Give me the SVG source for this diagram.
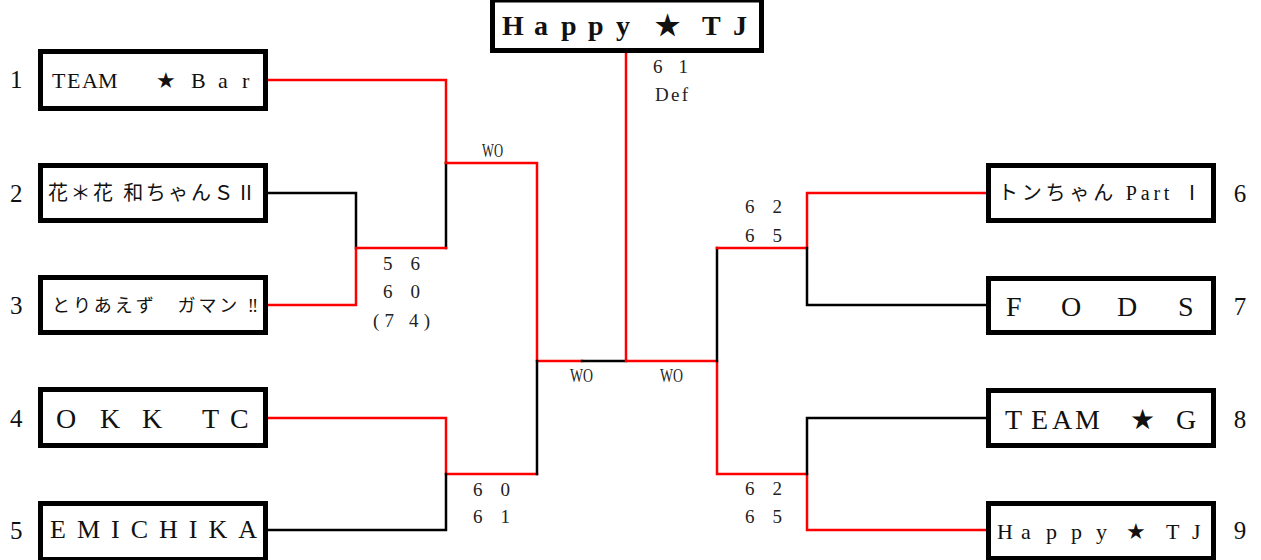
<svg xmlns="http://www.w3.org/2000/svg" width="1261" height="560" viewBox="0 0 1261 560">
<style>
.r{stroke:#f00;stroke-width:2.5;fill:none;stroke-linecap:square}
.k{stroke:#000;stroke-width:2.5;fill:none;stroke-linecap:square}
.box{fill:#fff;stroke:#000;stroke-width:5}
.t{font-family:"Liberation Serif","Times New Roman","DejaVu Serif",serif;fill:#111}
.j{font-family:"Liberation Serif","Noto Sans CJK JP",sans-serif;fill:#111}
.n{font-family:"Liberation Serif","Times New Roman","DejaVu Serif",serif;font-size:25px;fill:#111}
.s{font-family:"Liberation Serif","Times New Roman","DejaVu Serif",serif;font-size:19px;fill:#222}
</style>
<rect width="1261" height="560" fill="#fff"/>
<g id="connectors">
<path class="r" d="M268,80H446V163"/>
<path class="k" d="M446,163V248"/>
<path class="k" d="M268,193H356V248"/>
<path class="r" d="M268,305H356V248H446"/>
<path class="r" d="M446,163H537V361H582"/>
<path class="k" d="M582,361H626"/>
<path class="r" d="M268,418H446V474H537"/>
<path class="k" d="M268,530H446V474"/>
<path class="k" d="M537,361V474"/>
<path class="r" d="M626,53V361H717V474H807V530H986"/>
<path class="k" d="M717,361V248"/>
<path class="r" d="M717,248H807V193H986"/>
<path class="k" d="M807,248V305H986"/>
<path class="k" d="M807,474V418H986"/>
</g>
<g id="final">
<rect class="box" x="492.5" y="0" width="269" height="50.5"/>
<text class="t" x="502 534 561 588 616 655 702 733" y="35" font-size="28" font-weight="bold">Happy★TJ</text>
</g>
<g id="team1">
<text class="n" x="10" y="88">1</text>
<rect class="box" x="40.5" y="51.5" width="225" height="57"/>
<text class="t" x="52 67 82 98 156 191 218 242" y="88" font-size="22">TEAM★Bar</text>
</g>
<g id="team2">
<text class="n" x="10" y="202">2</text>
<rect class="box" x="40.5" y="165.5" width="225" height="55"/>
<text class="j" x="48" y="200" font-size="20" textLength="208" lengthAdjust="spacing" xml:space="preserve">花＊花 和ちゃんＳⅡ</text>
</g>
<g id="team3">
<text class="n" x="10" y="314">3</text>
<rect class="box" x="40.5" y="277.5" width="225" height="55"/>
<text class="j" x="52" y="312" font-size="18" textLength="206" lengthAdjust="spacing" xml:space="preserve">とりあえず　ガマン ‼</text>
</g>
<g id="team4">
<text class="n" x="10" y="427">4</text>
<rect class="box" x="40.5" y="389.5" width="225" height="56"/>
<text class="t" x="56 100 142 202 230" y="428" font-size="28">OKKTC</text>
</g>
<g id="team5">
<text class="n" x="10" y="539">5</text>
<rect class="box" x="40.5" y="503.5" width="225" height="56"/>
<text class="t" x="50" y="538" font-size="26" textLength="207" lengthAdjust="spacing">EMICHIKA</text>
</g>
<g id="team6">
<rect class="box" x="988.5" y="165.5" width="225" height="55"/>
<text class="j" x="998" y="200" font-size="20" textLength="204" lengthAdjust="spacing" xml:space="preserve">トンちゃん Part Ⅰ</text>
<text class="n" x="1240" y="202" text-anchor="middle">6</text>
</g>
<g id="team7">
<rect class="box" x="988.5" y="278.5" width="225" height="54"/>
<text class="t" x="1006 1061 1117 1178" y="316" font-size="28">FODS</text>
<text class="n" x="1240" y="315" text-anchor="middle">7</text>
</g>
<g id="team8">
<rect class="box" x="988.5" y="390.5" width="225" height="55"/>
<text class="t" x="1005 1031 1052 1075 1130 1176" y="429" font-size="28">TEAM★G</text>
<text class="n" x="1240" y="428" text-anchor="middle">8</text>
</g>
<g id="team9">
<rect class="box" x="988.5" y="503.5" width="225" height="55"/>
<text class="t" x="997 1021 1046 1071 1096 1126 1166 1192" y="539" font-size="22">Happy★TJ</text>
<text class="n" x="1240" y="539" text-anchor="middle">9</text>
</g>
<g id="scores">
<text class="s" x="653" y="73" textLength="35" lengthAdjust="spacing">6 1</text>
<text class="s" x="655" y="101" textLength="33" lengthAdjust="spacing">Def</text>
<text class="s" x="383" y="270" textLength="37" lengthAdjust="spacing">5 6</text>
<text class="s" x="383" y="298" textLength="37" lengthAdjust="spacing">6 0</text>
<text class="s" x="373" y="327" textLength="57" lengthAdjust="spacing">(7 4)</text>
<text class="s" x="473" y="496" textLength="37" lengthAdjust="spacing">6 0</text>
<text class="s" x="473" y="523" textLength="37" lengthAdjust="spacing">6 1</text>
<text class="s" x="745" y="213" textLength="37" lengthAdjust="spacing">6 2</text>
<text class="s" x="745" y="242" textLength="37" lengthAdjust="spacing">6 5</text>
<text class="s" x="745" y="495" textLength="37" lengthAdjust="spacing">6 2</text>
<text class="s" x="745" y="523" textLength="37" lengthAdjust="spacing">6 5</text>
<text class="s" x="482" y="157" font-size="17" textLength="21" lengthAdjust="spacingAndGlyphs">WO</text>
<text class="s" x="570" y="382" font-size="17" textLength="23" lengthAdjust="spacingAndGlyphs">WO</text>
<text class="s" x="660" y="382" font-size="17" textLength="23" lengthAdjust="spacingAndGlyphs">WO</text>
</g>
</svg>
